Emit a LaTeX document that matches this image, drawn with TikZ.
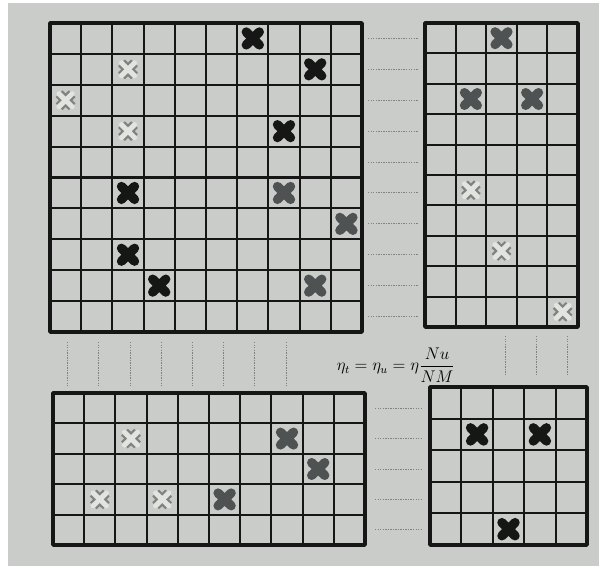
\documentclass[tikz,border=0pt]{standalone}
\usetikzlibrary{calc}
\definecolor{paper}{RGB}{202,204,201}
\definecolor{paperlight}{RGB}{226,228,224}
\definecolor{inkdark}{RGB}{22,22,22}
\definecolor{inkgray}{RGB}{78,82,82}
\definecolor{inklight}{RGB}{128,130,128}
\tikzset{
    gridline/.style={line width=1.4pt, draw=inkdark}, % inner cell lines
    gridmid/.style={line width=2.1pt, draw=inkdark},  % the thicker middle lines
    gridframe/.style={line width=2.5pt, draw=inkdark, line join=round},
    guide/.style={draw=inklight, line width=0.7pt, dash pattern=on 1pt off 0.8pt},
    crossblack/.style={line width=6.6pt, line cap=round, draw=inkdark},
    crossgray/.style={line width=6.6pt, line cap=round, draw=inkgray},
    crosslight/.style={line width=3.6pt, line cap=round, draw=paperlight,
        preaction={draw=inklight, line width=6.8pt}}
}
% cols, rows
\newcommand{\cellgrid}[2]{%
    \foreach \c in {1,...,#1} \draw[gridline] (\c,0) -- (\c,#2);
    \foreach \r in {1,...,#2} \draw[gridline] (0,\r) -- (#1,\r);
    \draw[gridframe] (0,0) rectangle (#1,#2);}
% col, row, style
\newcommand{\cellcross}[3]{%
    \draw[#3] (#1+0.29,#2+0.29) -- (#1+0.71,#2+0.71)
              (#1+0.29,#2+0.71) -- (#1+0.71,#2+0.29);}

\begin{document}
\begin{tikzpicture}[x=0.025cm, y=-0.025cm]
    \useasboundingbox (0,0) rectangle (599,566);
    \fill[white] (0,0) rectangle (599,566);
    \fill[paper] (8,3) rectangle (599,566);

    % big grid, top left
    \begin{scope}[shift={(50,23)}, xscale=31.2, yscale=30.9]
        \cellgrid{10}{10}
        \draw[gridmid] (5,0) -- (5,10) (0,5) -- (10,5);
        \cellcross{6}{0}{crossblack}
        \cellcross{2}{1}{crosslight}
        \cellcross{8}{1}{crossblack}
        \cellcross{0}{2}{crosslight}
        \cellcross{2}{3}{crosslight}
        \cellcross{7}{3}{crossblack}
        \cellcross{2}{5}{crossblack}
        \cellcross{7}{5}{crossgray}
        \cellcross{9}{6}{crossgray}
        \cellcross{2}{7}{crossblack}
        \cellcross{3}{8}{crossblack}
        \cellcross{8}{8}{crossgray}
    \end{scope}

    % narrow grid, top right
    \begin{scope}[shift={(425,23)}, xscale=30.6, yscale=30.4]
        \cellgrid{5}{10}
        \draw[gridmid] (0,5) -- (5,5);
        \cellcross{2}{0}{crossgray}
        \cellcross{1}{2}{crossgray}
        \cellcross{3}{2}{crossgray}
        \cellcross{1}{5}{crosslight}
        \cellcross{2}{7}{crosslight}
        \cellcross{4}{9}{crosslight}
    \end{scope}

    % wide grid, bottom left
    \begin{scope}[shift={(53,393)}, xscale=31.2, yscale=30.4]
        \cellgrid{10}{5}
        \draw[gridmid] (5,0) -- (5,5);
        \cellcross{2}{1}{crosslight}
        \cellcross{7}{1}{crossgray}
        \cellcross{8}{2}{crossgray}
        \cellcross{1}{3}{crosslight}
        \cellcross{3}{3}{crosslight}
        \cellcross{5}{3}{crossgray}
    \end{scope}

    % small grid, bottom right
    \begin{scope}[shift={(430,387)}, xscale=31.4, yscale=31.6]
        \cellgrid{5}{5}
        \cellcross{1}{1}{crossblack}
        \cellcross{3}{1}{crossblack}
        \cellcross{2}{4}{crossblack}
    \end{scope}

    % dotted guides
    \foreach \r in {0,...,9}
        \draw[guide] (368,{23+30.9*(\r+0.5)}) -- (418,{23+30.9*(\r+0.5)});
    \foreach \r in {0,...,4}
        \draw[guide] (375,{393+30.4*(\r+0.5)}) -- (422,{393+30.4*(\r+0.5)});
    \foreach \c in {0,...,7}
        \draw[guide] ({52+31.2*(\c+0.5)},342) -- ({52+31.2*(\c+0.5)},387);
    \foreach \c in {2,3,4}
        \draw[guide] ({428+31*(\c+0.5)},336) -- ({428+31*(\c+0.5)},375);

    \node[font=\large, inner sep=0pt] (rate) at (396,365)
        {$\eta_t=\eta_u=\eta\displaystyle\frac{Nu}{NM}$};
\end{tikzpicture}
\end{document}
